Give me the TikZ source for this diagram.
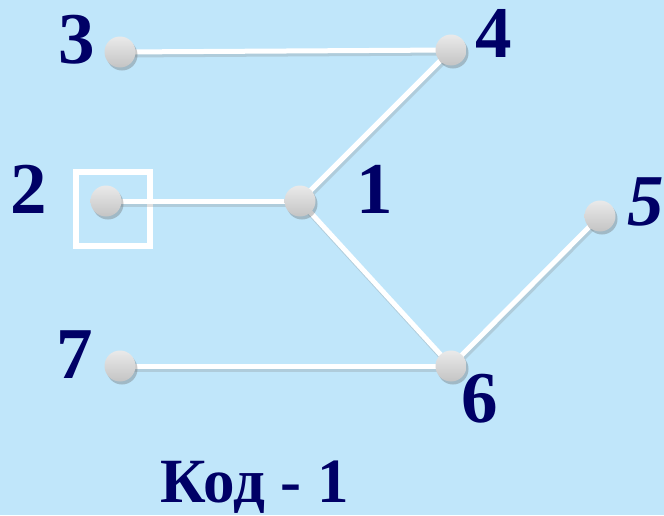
\documentclass[tikz,border=0pt]{standalone}
\usepackage{fontspec}
\setmainfont{Liberation Serif}
\usetikzlibrary{shadows}
\definecolor{bgblue}{HTML}{C0E6FA}
\definecolor{navy}{HTML}{000066}
\definecolor{dotlight}{HTML}{EAEAEA}
\definecolor{dotdark}{HTML}{C4C4C4}
\tikzset{
  vert/.style={circle, minimum size=31pt, inner sep=0pt, top color=dotlight, bottom color=dotdark,
    drop shadow={shadow xshift=2pt, shadow yshift=-3pt, opacity=0.35, fill=black!60}},
  edge/.style={draw=white, line width=5pt,
    preaction={draw=black!50, opacity=0.25, line width=5pt, transform canvas={shift={(1.5pt,-3pt)}}}},
  lbl/.style={text=navy, font=\fontsize{73}{76}\selectfont\bfseries, inner sep=0pt},
  markbox/.style={draw=white, line width=5.5pt, minimum size=74pt, inner sep=0pt}
}
\begin{document}
\begin{tikzpicture}[x=1pt, y=-1pt]
\fill[bgblue] (0,0) rectangle (664,515);
\useasboundingbox (0,0) rectangle (664,515);
\node[markbox] (box) at (113,209) {};
\coordinate (c3) at (120,52);
\coordinate (c4) at (451,50);
\coordinate (c1) at (300,201);
\coordinate (c2) at (106,201);
\coordinate (c5) at (600,216);
\coordinate (c7) at (120,366);
\coordinate (c6) at (451,366);
\draw[edge] (c3) -- (c4);
\draw[edge] (c2) -- (c1);
\draw[edge] (c1) -- (c4);
\draw[edge] (c1) -- (c6);
\draw[edge] (c7) -- (c6);
\draw[edge] (c6) -- (c5);
\node[vert] (v3) at (c3) {};
\node[vert] (v4) at (c4) {};
\node[vert] (v1) at (c1) {};
\node[vert] (v2) at (c2) {};
\node[vert] (v5) at (c5) {};
\node[vert] (v7) at (c7) {};
\node[vert] (v6) at (c6) {};
\node[lbl] (l3) at (76.5,39.5) {3};
\node[lbl] (l4) at (493.5,33.5) {4};
\node[lbl] (l2) at (28.5,189) {2};
\node[lbl] (l1) at (374.5,189) {1};
\node[lbl, font=\fontsize{73}{76}\selectfont\bfseries\itshape] (l5) at (646,202) {5};
\node[lbl] (l7) at (74.5,355) {7};
\node[lbl] (l6) at (479.5,399) {6};
\node[lbl, anchor=base, font=\fontsize{63}{66}\selectfont\bfseries] (code) at (255,502) {Код - 1};
\end{tikzpicture}
\end{document}
